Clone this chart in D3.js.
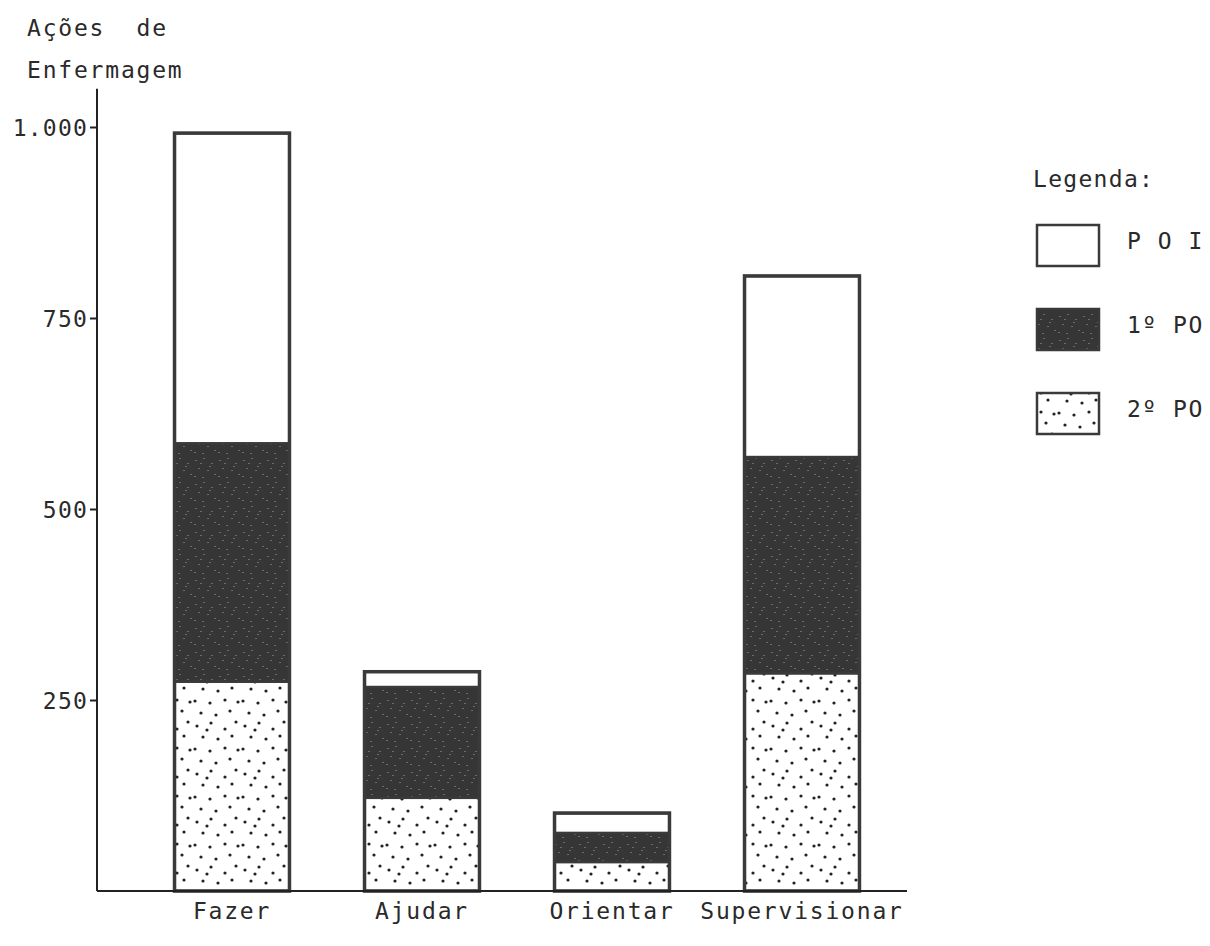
<!DOCTYPE html>
<html>
<head>
<meta charset="utf-8">
<script src="https://cdn.jsdelivr.net/npm/d3@7"></script>
<style>
  html, body { margin: 0; padding: 0; background: #ffffff; }
  svg { display: block; }
  text { font-family: "DejaVu Sans Mono", "Liberation Mono", monospace; fill: #2a2a2a; }
</style>
</head>
<body>
<svg id="chart" width="1210" height="946"></svg>
<script>
// ---- data ----
const categories = ["Fazer", "Ajudar", "Orientar", "Supervisionar"];
const seriesKeys = ["2º PO", "1º PO", "P O I"];   // bottom to top
const values2PO  = [274, 122, 38, 285];
const values1PO  = [312, 145, 38, 283];
const valuesPOI  = [406, 20, 26, 237];
const yTickValues = [250, 500, 750, 1000];
const yTickLabels = ["250", "500", "750", "1.000"];
const legendOrder = ["P O I", "1º PO", "2º PO"];
const titleLines = ["Ações  de", "Enfermagem"];
const legendTitle = "Legenda:";

// ---- table for the stack ----
const table = categories.map((c, i) => ({
  cat: c,
  "2º PO": values2PO[i],
  "1º PO": values1PO[i],
  "P O I": valuesPOI[i]
}));

const svg = d3.select("#chart");

// patterns
const defs = svg.append("defs");
const dots = defs.append("pattern")
  .attr("id", "dots").attr("patternUnits", "userSpaceOnUse")
  .attr("width", 48).attr("height", 48);
dots.append("rect").attr("width", 48).attr("height", 48).attr("fill", "#fff");
const dotPos = [[5,6],[19,3],[33,9],[44,2],[11,17],[26,19],[40,16],[3,29],[18,31],[33,28],
                [9,41],[24,43],[38,39],[46,30],[15,10]];
dots.selectAll("circle").data(dotPos).join("circle")
  .attr("cx", d => d[0]).attr("cy", d => d[1]).attr("r", 1.6).attr("fill", "#222");

const dark = defs.append("pattern")
  .attr("id", "dark").attr("patternUnits", "userSpaceOnUse")
  .attr("width", 24).attr("height", 24);
dark.append("rect").attr("width", 24).attr("height", 24).attr("fill", "#363636");
const speck = [[3,4],[11,2],[19,7],[6,12],[15,14],[22,18],[2,20],[10,21],[17,10],[8,7]];
dark.selectAll("rect.s").data(speck).join("rect").attr("class", "s")
  .attr("x", d => d[0]).attr("y", d => d[1]).attr("width", 2).attr("height", 1)
  .attr("fill", "#6a6a6a");

const fills = { "2º PO": "url(#dots)", "1º PO": "url(#dark)", "P O I": "#ffffff" };

// scales
const x = d3.scaleBand().domain(categories).range([137, 897])
  .paddingInner(0.395).paddingOuter(0.1975);
const y = d3.scaleLinear().domain([0, 1000]).range([891, 127]);

const stack = d3.stack().keys(seriesKeys);
const layers = stack(table);

// bars: segments
const g = svg.append("g");
layers.forEach(layer => {
  g.selectAll(null).data(layer).join("rect")
    .attr("x", d => x(d.data.cat))
    .attr("width", x.bandwidth())
    .attr("y", d => y(d[1]))
    .attr("height", d => y(d[0]) - y(d[1]))
    .attr("fill", fills[layer.key])
    .attr("stroke", "#3a3a3a")
    .attr("stroke-width", 2.5);
});
// outer outline of bars
g.selectAll(null).data(layers[layers.length - 1]).join("rect")
  .attr("x", d => x(d.data.cat))
  .attr("width", x.bandwidth())
  .attr("y", d => y(d[1]))
  .attr("height", d => y(0) - y(d[1]))
  .attr("fill", "none")
  .attr("stroke", "#3a3a3a")
  .attr("stroke-width", 3.5);

// y axis
const yAxis = d3.axisLeft(y).tickValues(yTickValues)
  .tickFormat((d, i) => yTickLabels[i]).tickSize(7).tickPadding(2);
const ya = svg.append("g").attr("transform", "translate(97,0)").call(yAxis);
ya.select(".domain").remove();
ya.selectAll(".tick line").attr("stroke", "#222").attr("stroke-width", 2);
ya.selectAll(".tick text")
  .style("font-family", '"DejaVu Sans Mono", monospace')
  .style("font-size", "23px").style("letter-spacing", "1.2px")
  .attr("fill", "#2a2a2a").attr("dy", "0.35em");

svg.append("line")
  .attr("x1", 97).attr("x2", 97).attr("y1", y(0)).attr("y2", y(1050))
  .attr("stroke", "#222").attr("stroke-width", 2);

// x axis
svg.append("line")
  .attr("x1", 97).attr("x2", x.range()[1] + 10).attr("y1", y(0)).attr("y2", y(0))
  .attr("stroke", "#222").attr("stroke-width", 2);
svg.append("g").selectAll("text").data(categories).join("text")
  .attr("x", d => x(d) + x.bandwidth() / 2)
  .attr("y", 919)
  .attr("text-anchor", "middle")
  .style("font-size", "23px").style("letter-spacing", "1.8px")
  .text(d => d);

// title
svg.append("g").selectAll("text").data(titleLines).join("text")
  .attr("x", 27).attr("y", (d, i) => 36 + i * 42)
  .style("font-size", "23px").style("letter-spacing", "1.8px")
  .style("white-space", "pre").attr("xml:space", "preserve")
  .text(d => d);

// legend
const lg = svg.append("g");
lg.append("text").attr("x", 1033).attr("y", 187)
  .style("font-size", "23px").style("letter-spacing", "1.3px").text(legendTitle);
const legendY = d3.scalePoint().domain(legendOrder).range([225, 393]);
lg.selectAll("rect").data(legendOrder).join("rect")
  .attr("x", 1037).attr("y", d => legendY(d))
  .attr("width", 62).attr("height", 41)
  .attr("fill", d => fills[d]).attr("stroke", "#3a3a3a").attr("stroke-width", 2.5);
lg.selectAll("text.l").data(legendOrder).join("text").attr("class", "l")
  .attr("x", 1127).attr("y", d => legendY(d) + 24)
  .style("font-size", "23px").style("letter-spacing", "1.5px")
  .style("white-space", "pre")
  .text(d => d);
</script>
</body>
</html>
